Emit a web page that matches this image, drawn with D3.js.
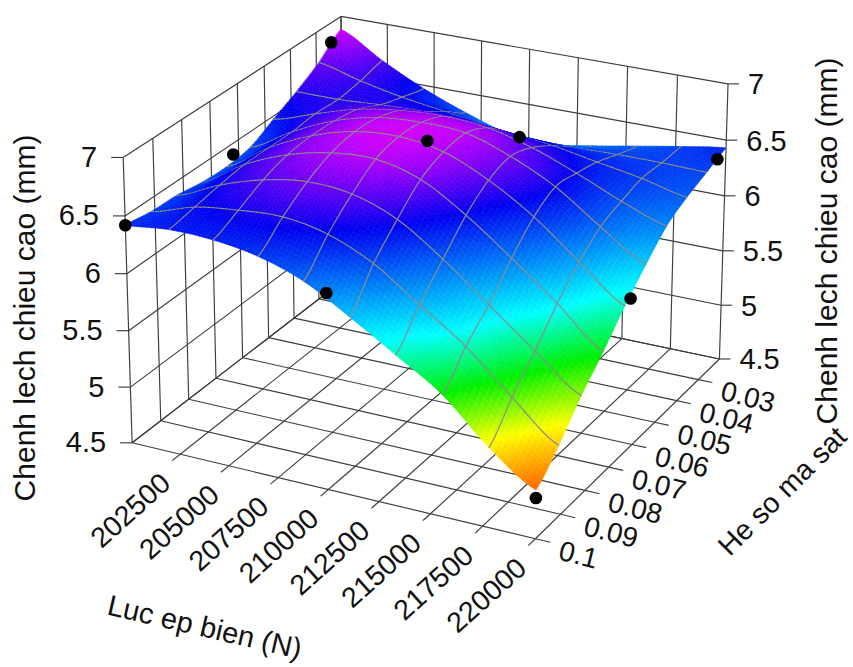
<!DOCTYPE html>
<html>
<head>
<meta charset="utf-8">
<script src="https://cdnjs.cloudflare.com/ajax/libs/d3/7.9.0/d3.min.js"></script>
<style>html,body{margin:0;padding:0;background:#fff}svg{display:block}text{font-family:"Liberation Sans",Arial,sans-serif;fill:#111}</style>
</head>
<body>
<svg id="c" width="853" height="667"></svg>
<script>
// ---------- data ----------
const forceValues = [200000,202500,205000,207500,210000,212500,215000,217500,220000];
const frictionValues = [0.02,0.03,0.04,0.05,0.06,0.07,0.08,0.09,0.1];
const heightTicks = [4.5,5,5.5,6,6.5,7];
const forceTickLabels = ["202500","205000","207500","210000","212500","215000","217500","220000"];
const frictionTickLabels = ["0.03","0.04","0.05","0.06","0.07","0.08","0.09","0.1"];
// surface mesh positions and heights: rows follow meshFriction, columns follow meshForce
const meshForce = [200000,202222,204444,206667,208889,211111,213333,215556,217778,220000];
const meshFriction = [0.02,0.0289,0.0378,0.0467,0.0556,0.0644,0.0733,0.0822,0.0911,0.1];
const surfaceHeights = [
 [6.88,6.66,6.47,6.32,6.20,6.17,6.23,6.30,6.37,6.43],
 [6.71,6.61,6.53,6.47,6.41,6.37,6.36,6.37,6.37,6.36],
 [6.58,6.58,6.60,6.61,6.60,6.56,6.52,6.45,6.38,6.29],
 [6.47,6.59,6.70,6.76,6.78,6.75,6.65,6.50,6.33,6.19],
 [6.36,6.57,6.74,6.84,6.87,6.85,6.72,6.53,6.26,6.01],
 [6.33,6.57,6.75,6.86,6.89,6.83,6.66,6.42,6.11,5.81],
 [6.34,6.57,6.73,6.82,6.84,6.74,6.51,6.22,5.91,5.58],
 [6.375,6.54,6.66,6.72,6.69,6.55,6.29,5.98,5.67,5.37],
 [6.385,6.50,6.55,6.57,6.50,6.33,6.06,5.79,5.44,5.12],
 [6.42,6.46,6.45,6.39,6.26,6.04,5.80,5.55,5.19,4.92]
];
const pointForce =    [200000,210000,220000,200000,210000,220000,200000,210000,220000];
const pointFriction = [0.024,0.024,0.024,0.062,0.062,0.062,0.1,0.1,0.1];
const pointHeight =   [6.82,6.265,6.395,6.40,6.85,5.83,6.42,6.20,4.85];
const colorHeights = [4.9,5.22,5.55,5.88,6.52,6.95];
const colorStops = ["#ff6000","#ffff00","#00f000","#00ffff","#0000f0","#f000ff"];

// ---------- scales ----------
const sx = d3.scaleLinear().domain([200000,220000]).range([0,1]);
const sy = d3.scaleLinear().domain([0.02,0.1]).range([0,1]);
const sz = d3.scaleLinear().domain([4.5,7]).range([0,1]);
const color = d3.scaleLinear().domain(colorHeights).range(colorStops).clamp(true);

// ---------- camera: perspective projection calibrated on the box corners ----------
const calib = [
 [0,1,0,133,443],[1,1,0,535,539],[1,0,0,719,359],[0,0,0,343,281],
 [0,1,1,123,157],[1,0,1,728,85],[0,0,1,341,17],
 [0,0,.5,342,149],[1,0,.5,724.5,222],[0,1,.4,128.3,330.7]
];
function solve(A,b){
  const n=b.length,M=A.map((r,i)=>[...r,b[i]]);
  for(let c=0;c<n;c++){
    let p=c;for(let r=c+1;r<n;r++)if(Math.abs(M[r][c])>Math.abs(M[p][c]))p=r;
    [M[c],M[p]]=[M[p],M[c]];
    for(let r=0;r<n;r++){if(r===c)continue;const f=M[r][c]/M[c][c];for(let k=c;k<=n;k++)M[r][k]-=f*M[c][k];}
  }
  return M.map((r,i)=>r[n]/r[i]);
}
const rows=[],rhs=[];
calib.forEach(([X,Y,Z,u,v])=>{
  rows.push([X,Y,Z,1,0,0,0,0,-u*X,-u*Y,-u*Z]);rhs.push(u);
  rows.push([0,0,0,0,X,Y,Z,1,-v*X,-v*Y,-v*Z]);rhs.push(v);
});
const ATA=d3.range(11).map(i=>d3.range(11).map(j=>d3.sum(rows,r=>r[i]*r[j])));
const ATb=d3.range(11).map(i=>d3.sum(rows,(r,k)=>r[i]*rhs[k]));
const H=solve(ATA,ATb);
function proj(X,Y,Z){
  const w=H[8]*X+H[9]*Y+H[10]*Z+1;
  return [(H[0]*X+H[1]*Y+H[2]*Z+H[3])/w,(H[4]*X+H[5]*Y+H[6]*Z+H[7])/w];
}
const P=(f,m,h)=>proj(sx(f),sy(m),sz(h));
const svg=d3.select("#c");
const line=d3.line();
const gridColor="#3c3c3c";

// ---------- box grid ----------
const segs=[];
const fMin=forceValues[0],fMax=forceValues[8],mMin=frictionValues[0],mMax=frictionValues[8],zMin=4.5,zMax=7;
forceValues.forEach(f=>{
  segs.push([P(f,mMin,zMin),P(f,mMin,zMax)]);
  segs.push([P(f,mMin,zMin),P(f,mMax,zMin)]);
});
frictionValues.forEach(m=>{
  segs.push([P(fMin,m,zMin),P(fMin,m,zMax)]);
  segs.push([P(fMin,m,zMin),P(fMax,m,zMin)]);
});
heightTicks.forEach(h=>{
  segs.push([P(fMin,mMin,h),P(fMax,mMin,h)]);
  segs.push([P(fMin,mMin,h),P(fMin,mMax,h)]);
});
// ticks
const tickOut=1.035;
forceValues.slice(1).forEach(f=>{const a=P(f,mMax,zMin);segs.push([a,proj(sx(f),tickOut,0)]);});
frictionValues.slice(1).forEach(m=>{const a=P(fMax,m,zMin);segs.push([a,proj(tickOut,sy(m),0)]);});
heightTicks.forEach(h=>{
  const a=P(fMin,mMax,h);segs.push([a,[a[0]-12,a[1]]]);
  const b=P(fMax,mMin,h);segs.push([b,[b[0]+11,b[1]]]);
});
svg.append("g").selectAll("path").data(segs).join("path")
  .attr("d",line).attr("fill","none").attr("stroke",gridColor).attr("stroke-width",1.15);

// ---------- surface ----------
const sub=10,n=meshForce.length,items=[];
function zAt(u,v){ // u,v in mesh units
  const i=Math.min(Math.floor(u),n-2),j=Math.min(Math.floor(v),n-2),a=u-i,b=v-j;
  const cr=(p0,p1,p2,p3,t)=>0.5*((2*p1)+(-p0+p2)*t+(2*p0-5*p1+4*p2-p3)*t*t+(-p0+3*p1-3*p2+p3)*t*t*t);
  const at=(r,c)=>{
    const rr=Math.max(0,Math.min(n-1,r)),cc=Math.max(0,Math.min(n-1,c));
    return surfaceHeights[rr][cc];
  };
  const col=k=>cr(at(j-1,k),at(j,k),at(j+1,k),at(j+2,k),b);
  return cr(col(i-1),col(i),col(i+1),col(i+2),a);
}
const N=(n-1)*sub;
const fAt=d3.scaleLinear().domain(d3.range(n)).range(meshForce);
const mAt=d3.scaleLinear().domain(d3.range(n)).range(meshFriction);
const pt=(a,b)=>{const u=a/sub,v=b/sub;return P(fAt(u),mAt(v),zAt(u,v));};
for(let a=0;a<N;a++)for(let b=0;b<N;b++){
  const z=zAt((a+.5)/sub,(b+.5)/sub);
  items.push({k:a+b,d:[pt(a,b),pt(a+1,b),pt(a+1,b+1),pt(a,b+1)],c:color(z),q:1});
  if(a%sub===0&&a>0) items.push({k:a+b+.5,d:[pt(a,b),pt(a,b+1)],q:0});
  if(b%sub===0&&b>0) items.push({k:a+b+.5,d:[pt(a,b),pt(a+1,b)],q:0});
}
items.sort((p,q)=>p.k-q.k);
svg.append("g").selectAll("path").data(items).join("path")
  .attr("d",d=>d.q?line(d.d)+"Z":line(d.d))
  .attr("fill",d=>d.q?d.c:"none")
  .attr("stroke",d=>d.q?d.c:"#8c8c8c")
  .attr("stroke-width",d=>d.q?0.6:1.2)
  .attr("stroke-linecap","round");

// ---------- design points ----------
svg.append("g").selectAll("circle").data(pointHeight).join("circle")
  .attr("cx",(d,i)=>P(pointForce[i],pointFriction[i],d)[0])
  .attr("cy",(d,i)=>P(pointForce[i],pointFriction[i],d)[1])
  .attr("r",6.3).attr("fill","#000");

// ---------- labels ----------
heightTicks.forEach(h=>{
  const a=P(fMin,mMax,h),b=P(fMax,mMin,h);
  svg.append("text").text(h).attr("x",a[0]-26).attr("y",a[1]-1).attr("dy","0.36em")
    .attr("text-anchor","end").attr("font-size",29);
  svg.append("text").text(h).attr("x",b[0]+20).attr("y",b[1]).attr("dy","0.36em")
    .attr("text-anchor","start").attr("font-size",29);
});
forceTickLabels.forEach((t,i)=>{
  const a=proj(sx(forceValues[i+1]),tickOut,0);
  svg.append("text").text(t).attr("text-anchor","end").attr("font-size",28.5)
    .attr("transform",`translate(${a[0]},${a[1]+25}) rotate(-42)`);
});
frictionTickLabels.forEach((t,i)=>{
  const a=proj(tickOut,sy(frictionValues[i+1]),0);
  svg.append("text").text(t).attr("text-anchor","start").attr("font-size",28)
    .attr("transform",`translate(${a[0]+7},${a[1]+17}) rotate(14)`);
});
svg.append("text").text("Chenh lech chieu cao (mm)").attr("font-size",30).attr("text-anchor","middle")
  .attr("transform","translate(35,318) rotate(-90)");
svg.append("text").text("Chenh lech chieu cao (mm)").attr("font-size",30).attr("text-anchor","middle")
  .attr("transform","translate(837,241) rotate(-90)");
svg.append("text").text("Luc ep bien (N)").attr("font-size",29).attr("text-anchor","middle")
  .attr("transform","translate(202.5,636.5) rotate(13)");
svg.append("text").text("He so ma sat").attr("font-size",28.5).attr("text-anchor","middle")
  .attr("transform","translate(789,498) rotate(-45)");
</script>
</body>
</html>
